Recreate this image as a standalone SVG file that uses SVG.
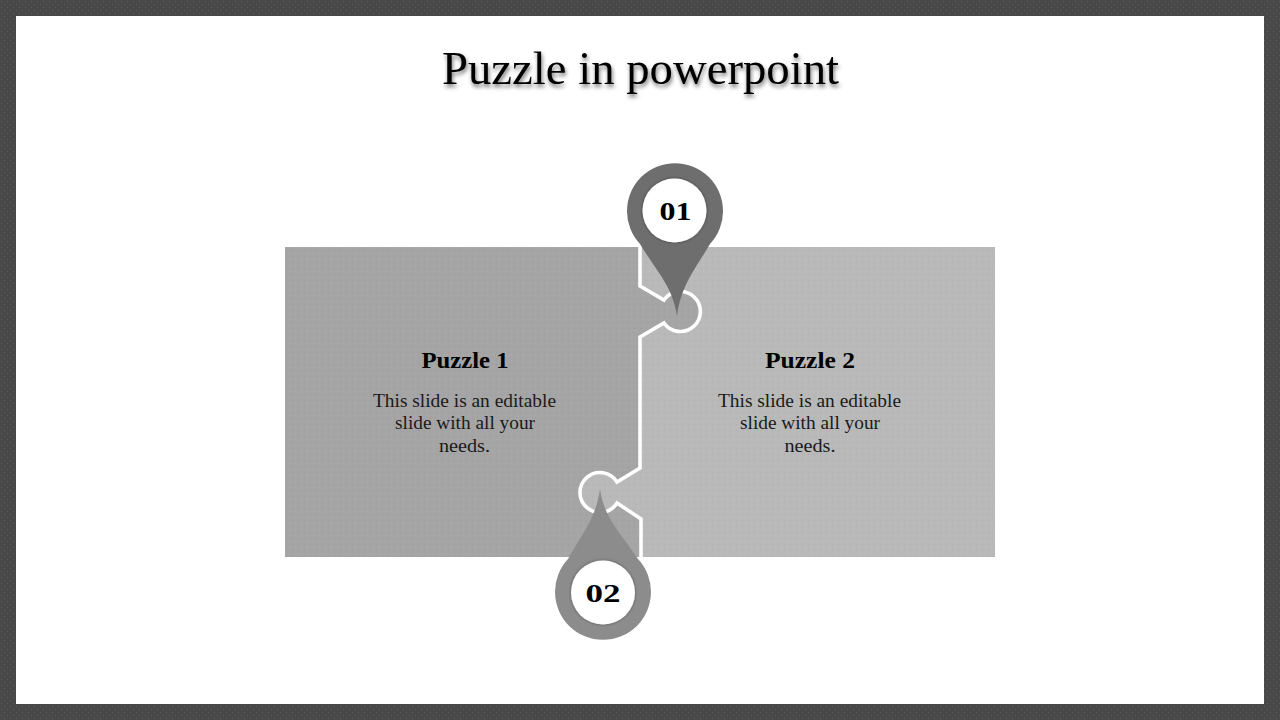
<svg xmlns="http://www.w3.org/2000/svg" width="1280" height="720" viewBox="0 0 1280 720">
<style>
text{font-family:"Liberation Serif","DejaVu Serif",serif;text-anchor:middle;fill:#000}
.body{font-size:19.5px;fill:#1a1a1a}
.head{font-size:22.5px;font-weight:bold}
.num{font-size:25px;font-weight:bold}
.seam{fill:none;stroke:#fff;stroke-width:3.6;stroke-linejoin:miter}
.hole{fill:#fff;filter:url(#inner)}
</style>
<defs>
<pattern id="dots" width="6" height="6" patternUnits="userSpaceOnUse">
<rect x="1" y="1" width="1" height="1" fill="#fff" fill-opacity=".10"/>
<rect x="4" y="4" width="1" height="1" fill="#000" fill-opacity=".06"/>
</pattern>
<pattern id="frame" width="6" height="6" patternUnits="userSpaceOnUse">
<rect width="6" height="6" fill="#484848"/>
<rect x="1" y="1" width="1" height="1" fill="#5e5e5e"/>
<rect x="4" y="4" width="1" height="1" fill="#5e5e5e"/>
</pattern>
<filter id="titleShadow" x="-5%" y="-20%" width="110%" height="150%">
<feDropShadow dx="1" dy="3" stdDeviation="2" flood-color="#000" flood-opacity=".55"/>
</filter>
<filter id="inner" x="-15%" y="-15%" width="130%" height="130%">
<feDropShadow dx="0" dy="0" stdDeviation="1.6" flood-color="#000" flood-opacity=".45"/>
</filter>
</defs>
<g id="background">
<rect width="1280" height="720" fill="url(#frame)"/>
<rect x="16" y="16" width="1248" height="688" fill="#fff"/>
</g>
<text id="title" x="640.5" y="84" font-size="46" textLength="397" lengthAdjust="spacingAndGlyphs" filter="url(#titleShadow)">Puzzle in powerpoint</text>
<g id="puzzle-1">
<path d="M285,247H640V286L664,300A20,20 0 1 1 664,323L640,337V468L617,482A20,20 0 1 0 617,503L641,519V557H285Z" fill="#a5a5a5"/>
<path d="M285,247H640V286L664,300A20,20 0 1 1 664,323L640,337V468L617,482A20,20 0 1 0 617,503L641,519V557H285Z" fill="url(#dots)"/>
<text class="head" x="465" y="368" textLength="87" lengthAdjust="spacingAndGlyphs">Puzzle 1</text>
<text class="body" x="464.5" y="407" textLength="183" lengthAdjust="spacingAndGlyphs">This slide is an editable</text>
<text class="body" x="465" y="429" textLength="140" lengthAdjust="spacingAndGlyphs">slide with all your</text>
<text class="body" x="464.5" y="452" textLength="51" lengthAdjust="spacingAndGlyphs">needs.</text>
</g>
<g id="puzzle-2">
<path d="M995,247H640V286L664,300A20,20 0 1 1 664,323L640,337V468L617,482A20,20 0 1 0 617,503L641,519V557H995Z" fill="#b9b9b9"/>
<path d="M995,247H640V286L664,300A20,20 0 1 1 664,323L640,337V468L617,482A20,20 0 1 0 617,503L641,519V557H995Z" fill="url(#dots)"/>
<text class="head" x="810" y="368" textLength="90" lengthAdjust="spacingAndGlyphs">Puzzle 2</text>
<text class="body" x="809.5" y="407" textLength="183" lengthAdjust="spacingAndGlyphs">This slide is an editable</text>
<text class="body" x="810" y="429" textLength="140" lengthAdjust="spacingAndGlyphs">slide with all your</text>
<text class="body" x="810" y="452" textLength="51" lengthAdjust="spacingAndGlyphs">needs.</text>
</g>
<g id="connectors">
<path class="seam" d="M640,247V286L664,300A20,20 0 1 1 664,323L640,337V468L617,482A20,20 0 1 0 617,503L641,519V557"/>
</g>
<g id="pin-01">
<path d="M677,316C673,287 657,272 640,244A48,48 0 1 1 710,244C696,268 681,285 677,316Z" fill="#6e6e6e"/>
<circle class="hole" cx="674.5" cy="210.5" r="32"/>
<text class="num" x="675.5" y="220" textLength="32" lengthAdjust="spacingAndGlyphs">01</text>
</g>
<g id="pin-02">
<path d="M600,489C604,518 620,532 638,559A48,48 0 1 1 568,559C582,534 596,518 600,489Z" fill="#8c8c8c"/>
<circle class="hole" cx="603" cy="592.5" r="32"/>
<text class="num" x="603" y="602" textLength="35" lengthAdjust="spacingAndGlyphs">02</text>
</g>
</svg>
